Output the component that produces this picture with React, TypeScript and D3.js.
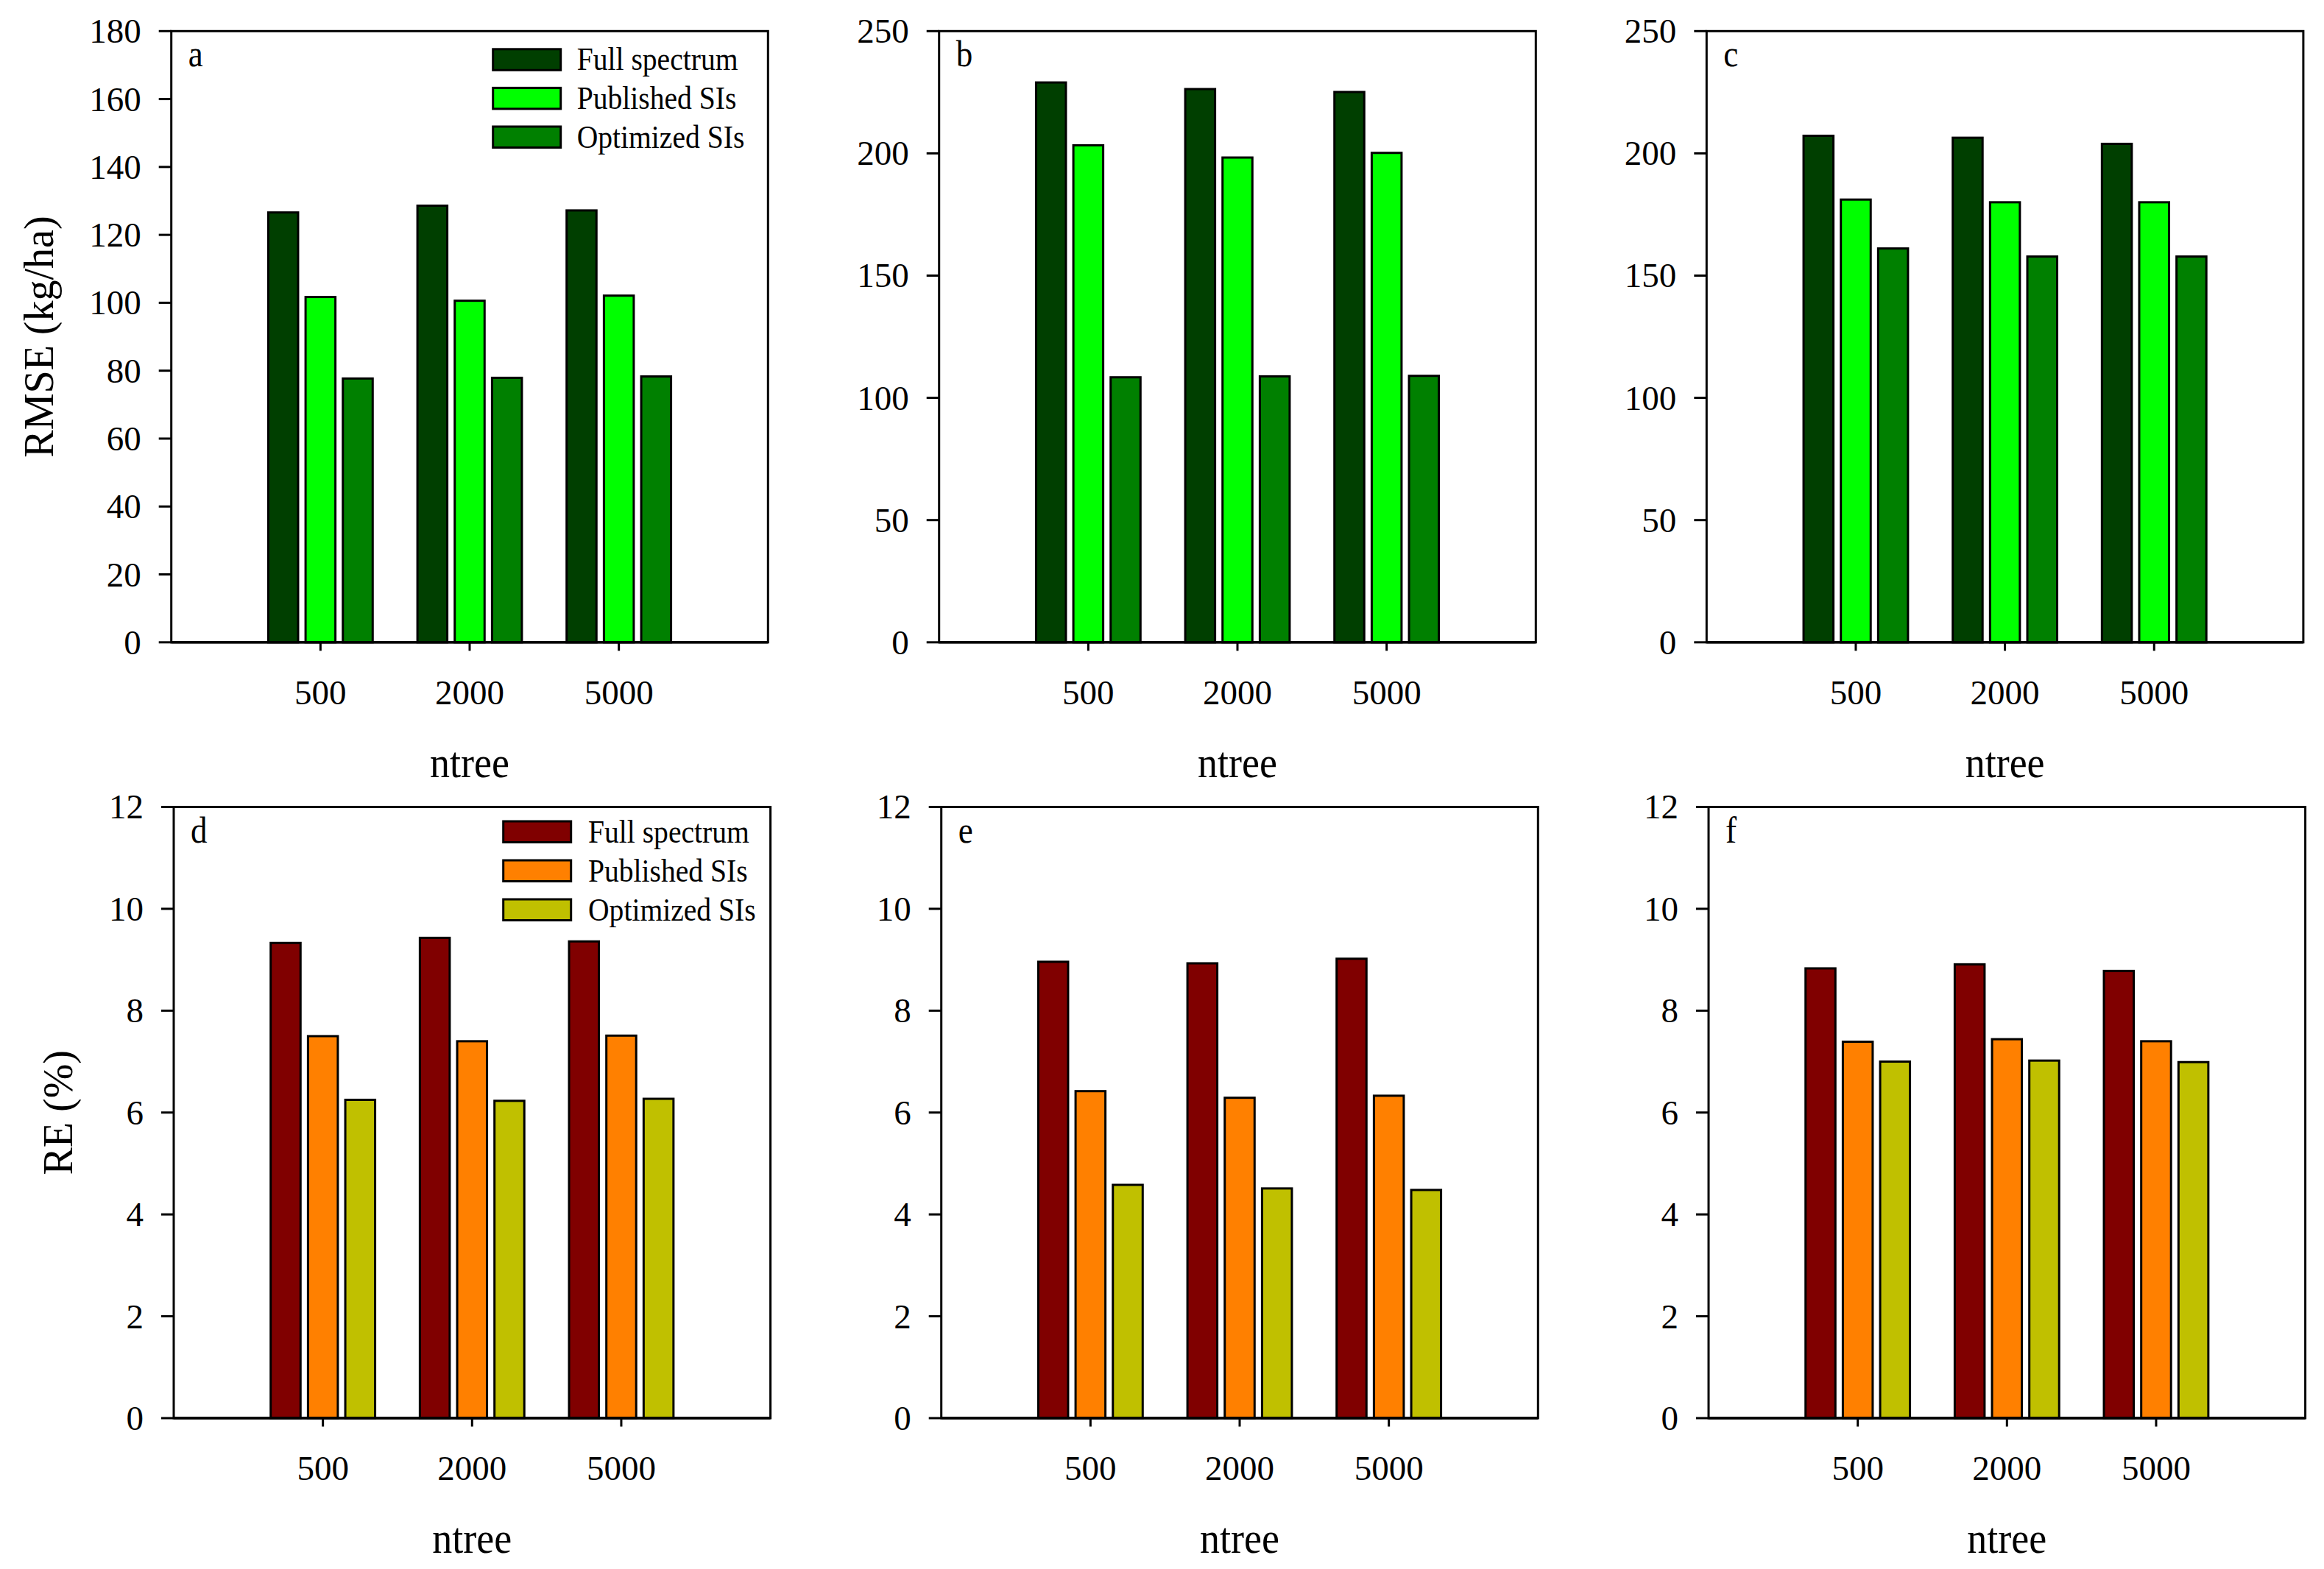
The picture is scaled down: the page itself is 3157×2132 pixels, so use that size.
import React from 'react';
import * as d3 from 'd3';

// ---------- data ----------
const categories = ['500', '2000', '5000'];
const seriesNames = ['Full spectrum', 'Published SIs', 'Optimized SIs'];

// RMSE (kg/ha), rows = series (Full, Published, Optimized), cols = ntree
const rmseA = [
  [126.6, 128.6, 127.2],
  [101.7, 100.6, 102.1],
  [77.7, 77.9, 78.3],
];
const rmseB = [
  [229.0, 226.3, 225.1],
  [203.3, 198.3, 200.2],
  [108.4, 108.8, 109.0],
];
const rmseC = [
  [207.2, 206.4, 203.9],
  [181.1, 180.0, 180.0],
  [161.1, 157.8, 157.8],
];
// RE (%)
const reD = [
  [9.33, 9.43, 9.36],
  [7.5, 7.4, 7.51],
  [6.25, 6.23, 6.27],
];
const reE = [
  [8.96, 8.93, 9.02],
  [6.42, 6.29, 6.33],
  [4.58, 4.51, 4.48],
];
const reF = [
  [8.83, 8.91, 8.78],
  [7.39, 7.44, 7.4],
  [7.0, 7.02, 6.99],
];

const ticksA = [0, 20, 40, 60, 80, 100, 120, 140, 160, 180];
const ticksBC = [0, 50, 100, 150, 200, 250];
const ticksRE = [0, 2, 4, 6, 8, 10, 12];

const greenColors = ['#003f00', '#00ff00', '#008000'];
const warmColors = ['#800000', '#ff8000', '#c0c000'];

// ---------- layout ----------
const W = 3157;
const H = 2132;
const PW = 810.6;
const PH = 830.5;
const FONT = '"Liberation Serif", "Times New Roman", serif';

type Panel = {
  letter: string;
  left: number;
  top: number;
  data: number[][];
  ticks: number[];
  colors: string[];
  yTitle?: string;
  yTitleX?: number;
  legend?: { bx: number; by: number; tx: number; step: number };
};

const panels: Panel[] = [
  { letter: 'a', left: 232.7, top: 42.3, data: rmseA, ticks: ticksA, colors: greenColors, yTitle: 'RMSE (kg/ha)', yTitleX: 72, legend: { bx: 437, by: 24.5, tx: 551, step: 52.6 } },
  { letter: 'b', left: 1275.7, top: 42.3, data: rmseB, ticks: ticksBC, colors: greenColors },
  { letter: 'c', left: 2318.3, top: 42.3, data: rmseC, ticks: ticksBC, colors: greenColors },
  { letter: 'd', left: 236, top: 1096.5, data: reD, ticks: ticksRE, colors: warmColors, yTitle: 'RE (%)', yTitleX: 98, legend: { bx: 447.7, by: 19.5, tx: 563, step: 53 } },
  { letter: 'e', left: 1278.7, top: 1096.5, data: reE, ticks: ticksRE, colors: warmColors },
  { letter: 'f', left: 2321, top: 1096.5, data: reF, ticks: ticksRE, colors: warmColors },
];

function PanelView({ p }: { p: Panel }) {
  const x = d3.scaleLinear().domain([0, 4]).range([p.left, p.left + PW]);
  const yMax = p.ticks[p.ticks.length - 1];
  const y = d3.scaleLinear().domain([0, yMax]).range([p.top + PH, p.top]);
  const bottom = p.top + PH;
  const barW = 0.2;
  const step = 0.25;
  return (
    <g>
      {/* bars */}
      {p.data.map((series, si) =>
        series.map((v, ci) => {
          const cx = ci + 1 + (si - 1) * step;
          const x0 = x(cx - barW / 2);
          const x1 = x(cx + barW / 2);
          return (
            <rect
              key={`${si}-${ci}`}
              x={x0}
              y={y(v)}
              width={x1 - x0}
              height={bottom - y(v)}
              fill={p.colors[si]}
              stroke="#000"
              strokeWidth={3}
            />
          );
        })
      )}
      {/* frame */}
      <rect x={p.left} y={p.top} width={PW} height={PH} fill="none" stroke="#000" strokeWidth={3} />
      <line x1={p.left} x2={p.left + PW} y1={bottom} y2={bottom} stroke="#000" strokeWidth={3.5} />
      {/* y ticks */}
      {p.ticks.map((t) => (
        <g key={t}>
          <line x1={p.left - 17} x2={p.left} y1={y(t)} y2={y(t)} stroke="#000" strokeWidth={3} />
          <text
            x={p.left - 41}
            y={y(t)}
            dy="0.34em"
            textAnchor="end"
            fontFamily={FONT}
            fontSize={47}
            fill="#000"
          >
            {t}
          </text>
        </g>
      ))}
      {/* x ticks */}
      {categories.map((c, i) => (
        <g key={c}>
          <line x1={x(i + 1)} x2={x(i + 1)} y1={bottom} y2={bottom + 11.5} stroke="#000" strokeWidth={3} />
          <text x={x(i + 1)} y={bottom + 84} textAnchor="middle" fontFamily={FONT} fontSize={47} fill="#000">
            {c}
          </text>
        </g>
      ))}
      {/* x title */}
      <text
        transform={`translate(${x(2)},${bottom + 183}) scale(0.9,1)`}
        textAnchor="middle"
        fontFamily={FONT}
        fontSize={60}
        fill="#000"
      >
        ntree
      </text>
      {/* panel letter */}
      <text
        transform={`translate(${p.left + 23},${p.top + 48}) scale(0.9,1)`}
        fontFamily={FONT}
        fontSize={50}
        fill="#000"
      >
        {p.letter}
      </text>
      {/* y title */}
      {p.yTitle && (
        <text
          transform={`translate(${p.yTitleX},${p.top + PH / 2}) rotate(-90)`}
          textAnchor="middle"
          fontFamily={FONT}
          fontSize={56}
          fill="#000"
        >
          {p.yTitle}
        </text>
      )}
      {/* legend */}
      {p.legend &&
        seriesNames.map((name, si) => {
          const lg = p.legend!;
          const by = p.top + lg.by + si * lg.step;
          return (
            <g key={name}>
              <rect x={p.left + lg.bx} y={by} width={92} height={28.5} fill={p.colors[si]} stroke="#000" strokeWidth={3} />
              <text
                transform={`translate(${p.left + lg.tx},${by + 28.5}) scale(0.9,1)`}
                fontFamily={FONT}
                fontSize={44}
                fill="#000"
              >
                {name}
              </text>
            </g>
          );
        })}
    </g>
  );
}

export default function App() {
  return (
    <div style={{ position: 'absolute', left: 0, top: 0, background: '#fff' }}>
      <svg width={W} height={H} viewBox={`0 0 ${W} ${H}`} style={{ display: 'block' }}>
        <rect x={0} y={0} width={W} height={H} fill="#fff" />
        {panels.map((p) => (
          <PanelView key={p.letter} p={p} />
        ))}
      </svg>
    </div>
  );
}
